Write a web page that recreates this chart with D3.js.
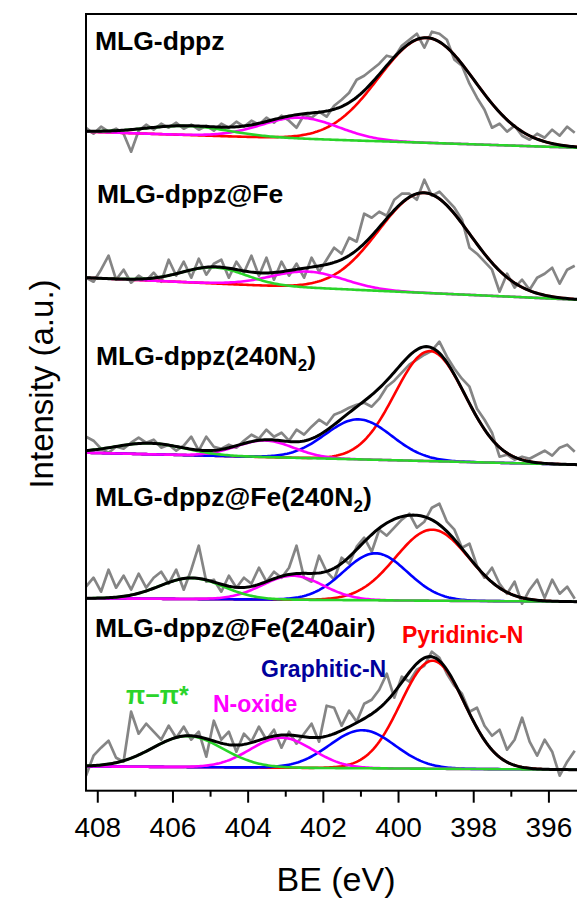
<!DOCTYPE html>
<meta charset="utf-8">
<html>
<head>
<script src="https://cdn.jsdelivr.net/npm/d3@7"></script>
<style>
body { margin: 0; background: #fff; }
text { font-family: "Liberation Sans", Arial, sans-serif; }
</style>
</head>
<body>
<script>

// ---- data -----------------------------------------------------------------
// samples, top to bottom ("_2" = subscript 2)
var samples = ["MLG-dppz", "MLG-dppz@Fe", "MLG-dppz(240N_2)", "MLG-dppz@Fe(240N_2)", "MLG-dppz@Fe(240air)"];
var offsets = [643, 491, 326, 189, 21];      // stacking offset of each spectrum (a.u.)
var bgStep  = [16, 22, 12, 3.4, 3.3];        // background rise 395.24 -> 408.3 eV (a.u.)

// fitted components, one entry per sample: [centre eV, height a.u., FWHM eV]
var pyridinic = [[399.24, 105, 3.0], [399.3, 100, 2.85], [399.15, 110, 2.2], [399.09, 71, 2.3], [399.08, 108, 2.0]];
var graphitic = [null, null, [401.05, 40, 2.08], [400.6, 47, 2.0], [400.95, 38, 2.05]];
var noxide    = [[402.6, 21, 2.4], [402.4, 16, 2.3], [403.54, 16.5, 1.8], [402.8, 24, 1.9], [403.1, 30, 1.95]];
var pipi      = [[405.6, 9, 2.6], [404.9, 16, 2.0], [406.6, 11, 2.2], [405.5, 21, 2.0], [405.6, 31, 2.2]];

// raw spectra (above each sample's right-hand baseline)
var rawBE = [408.3,408.1,407.9,407.7,407.5,407.3,407.1,406.9,406.7,406.5,
             406.3,406.1,405.9,405.7,405.5,405.3,405.1,404.9,404.7,404.5,
             404.3,404.1,403.9,403.7,403.5,403.3,403.1,402.9,402.7,402.5,
             402.3,402.1,401.9,401.7,401.5,401.3,401.1,400.9,400.7,400.5,
             400.3,400.1,399.9,399.7,399.5,399.3,399.1,398.9,398.7,398.5,
             398.3,398.1,397.9,397.7,397.5,397.3,397.1,396.9,396.7,396.5,
             396.3,396.1,395.9,395.7,395.5,395.3];
var raw1 = [20,14,21,16,19,14,-4,17,23,18, 24,20,25,19,23,18,22,17,24,20,
            26,21,27,23,30,25,32,27,20,33, 30,36,31,42,48,55,68,72,78,84,
            92,90,102,108,114,100,116,114,108,88, 82,64,50,38,20,24,16,22,12,8,
            14,10,18,12,21,15];
var raw2 = [22,18,30,44,20,30,17,24,19,27, 18,40,24,38,22,41,25,36,40,22,
            38,27,44,24,42,20,38,24,36,22, 42,28,40,52,46,62,58,86,82,88,
            84,100,106,106,100,120,104,108,100,92, 80,52,46,38,30,8,26,12,20,10,
            22,26,32,16,30,34];
var raw3 = [28,24,16,12,18,16,22,27,22,25, 17,20,14,19,28,14,28,18,16,20,
            17,24,30,26,35,28,32,24,35,30, 38,45,40,50,53,57,60,62,58,66,
            78,84,92,100,105,110,114,123,108,96, 86,78,56,45,32,8,10,5,8,6,
            10,14,9,17,20,13];
var raw4 = [15,24,10,32,14,26,12,28,14,24, 30,18,32,12,32,56,20,22,10,26,
            14,24,18,34,20,30,24,34,56,24, 20,46,30,22,44,38,55,64,50,72,
            66,74,82,88,74,80,94,98,80,72, 54,58,36,24,34,18,8,20,-2,12,
            22,4,22,8,15,3];
var raw5 = [-6,14,22,29,12,8,58,36,46,38, 30,44,32,43,30,38,13,49,30,38,
            18,36,28,43,30,40,22,38,26,36, 46,28,64,62,44,59,48,66,70,80,
            96,72,93,88,100,104,118,112,96,84, 76,58,62,44,34,40,20,30,52,28,
            14,30,18,-6,8,19];
var raws = [raw1, raw2, raw3, raw4, raw5];

var xTicks = [408, 406, 404, 402, 400, 398, 396];
var xMinor = [407, 405, 403, 401, 399, 397];

// ---- layout ---------------------------------------------------------------
var W = 577, H = 899;
var L = 86, R = 586, T = 14, B = 790.7;

var svg = d3.select("body").append("svg")
  .attr("width", W)
  .attr("height", H);

var x = d3.scaleLinear().domain([408.3, 395.0]).range([L, R]);
var y = d3.scaleLinear().domain([0, B - T]).range([B, T]);

svg.append("clipPath").attr("id", "plotArea")
  .append("rect")
  .attr("x", L).attr("y", T)
  .attr("width", R - L).attr("height", B - T);

var plot = svg.append("g").attr("clip-path", "url(#plotArea)");

function gauss(E, p) {
  return p[1] * Math.exp(-4 * Math.LN2 * Math.pow((E - p[0]) / p[2], 2));
}
function background(E, i) {
  return bgStep[i] * (E - 395.24) / (408.3 - 395.24);
}

var fitBE = d3.range(0, 270).map(function (k) { return 408.4 - k * 0.05; });
var line = d3.line()
  .x(function (d) { return x(d[0]); })
  .y(function (d) { return y(d[1]); });

var components = [
  { fits: pyridinic, color: "#ff0000" },
  { fits: graphitic, color: "#0000ff" },
  { fits: noxide,    color: "#ff00ff" },
  { fits: pipi,      color: "#2ad42a" }
];

samples.forEach(function (name, i) {
  var off = offsets[i];

  // raw data
  plot.append("path")
    .datum(rawBE.map(function (e, j) { return [e, off + raws[i][j]]; }))
    .attr("d", line)
    .attr("fill", "none")
    .attr("stroke", "#858585")
    .attr("stroke-width", 2.7)
    .attr("stroke-linejoin", "round");

  // each component on top of the background
  components.forEach(function (c) {
    var p = c.fits[i];
    if (!p) return;
    plot.append("path")
      .datum(fitBE.map(function (e) { return [e, off + background(e, i) + gauss(e, p)]; }))
      .attr("d", line)
      .attr("fill", "none")
      .attr("stroke", c.color)
      .attr("stroke-width", 2.6);
  });

  // envelope
  plot.append("path")
    .datum(fitBE.map(function (e) {
      var s = background(e, i);
      components.forEach(function (c) { if (c.fits[i]) s += gauss(e, c.fits[i]); });
      return [e, off + s];
    }))
    .attr("d", line)
    .attr("fill", "none")
    .attr("stroke", "#000")
    .attr("stroke-width", 3);
});

// sample labels
var labelX = [95, 97, 96, 95, 95];
var labelY = [49.5, 203.3, 365, 506, 637.3];
samples.forEach(function (name, i) {
  var t = svg.append("text")
    .attr("x", labelX[i])
    .attr("y", labelY[i])
    .style("font-size", "26.5px")
    .style("font-weight", "bold");
  var parts = name.split("_2");
  t.append("tspan").text(parts[0]);
  if (parts.length > 1) {
    t.append("tspan").attr("dy", 6).style("font-size", "17px").text("2");
    t.append("tspan").attr("dy", -6).text(parts[1]);
  }
});

// component labels
var compLabels = [
  { text: "Pyridinic-N", color: "#ff0000", x: 402, y: 643, size: 23 },
  { text: "Graphitic-N", color: "#00009c", x: 261, y: 676.5, size: 23 },
  { text: "N-oxide",     color: "#ff00ff", x: 213, y: 711.5, size: 23 },
  { text: "\u03c0\u2212\u03c0*", color: "#2ad42a", x: 126, y: 703.5, size: 25 }
];
compLabels.forEach(function (d) {
  svg.append("text")
    .attr("x", d.x).attr("y", d.y)
    .attr("fill", d.color)
    .style("font-size", d.size + "px")
    .style("font-weight", "bold")
    .text(d.text);
});

// frame
svg.append("rect")
  .attr("x", L).attr("y", T)
  .attr("width", R - L).attr("height", B - T)
  .attr("fill", "none")
  .attr("stroke", "#000")
  .attr("stroke-width", 2);

// x axis
var ax = svg.append("g")
  .attr("transform", "translate(0," + B + ")")
  .call(d3.axisBottom(x).tickValues(xTicks).tickSize(12).tickPadding(14).tickFormat(d3.format("d")));
ax.select(".domain").remove();
ax.selectAll("line").attr("stroke-width", 2);
ax.selectAll("text")
  .attr("font-family", "Liberation Sans, Arial, sans-serif")
  .style("font-size", "28px")
  .attr("fill", "#000");

var axm = svg.append("g")
  .attr("transform", "translate(0," + B + ")")
  .call(d3.axisBottom(x).tickValues(xMinor).tickSize(6).tickFormat(""));
axm.select(".domain").remove();
axm.selectAll("line").attr("stroke-width", 2);

// axis titles
svg.append("text")
  .attr("x", 336).attr("y", 891)
  .attr("text-anchor", "middle")
  .style("font-size", "34px")
  .text("BE (eV)");

svg.append("text")
  .attr("transform", "translate(53,384) rotate(-90)")
  .attr("text-anchor", "middle")
  .style("font-size", "33px")
  .text("Intensity (a.u.)");

</script>
</body>
</html>
